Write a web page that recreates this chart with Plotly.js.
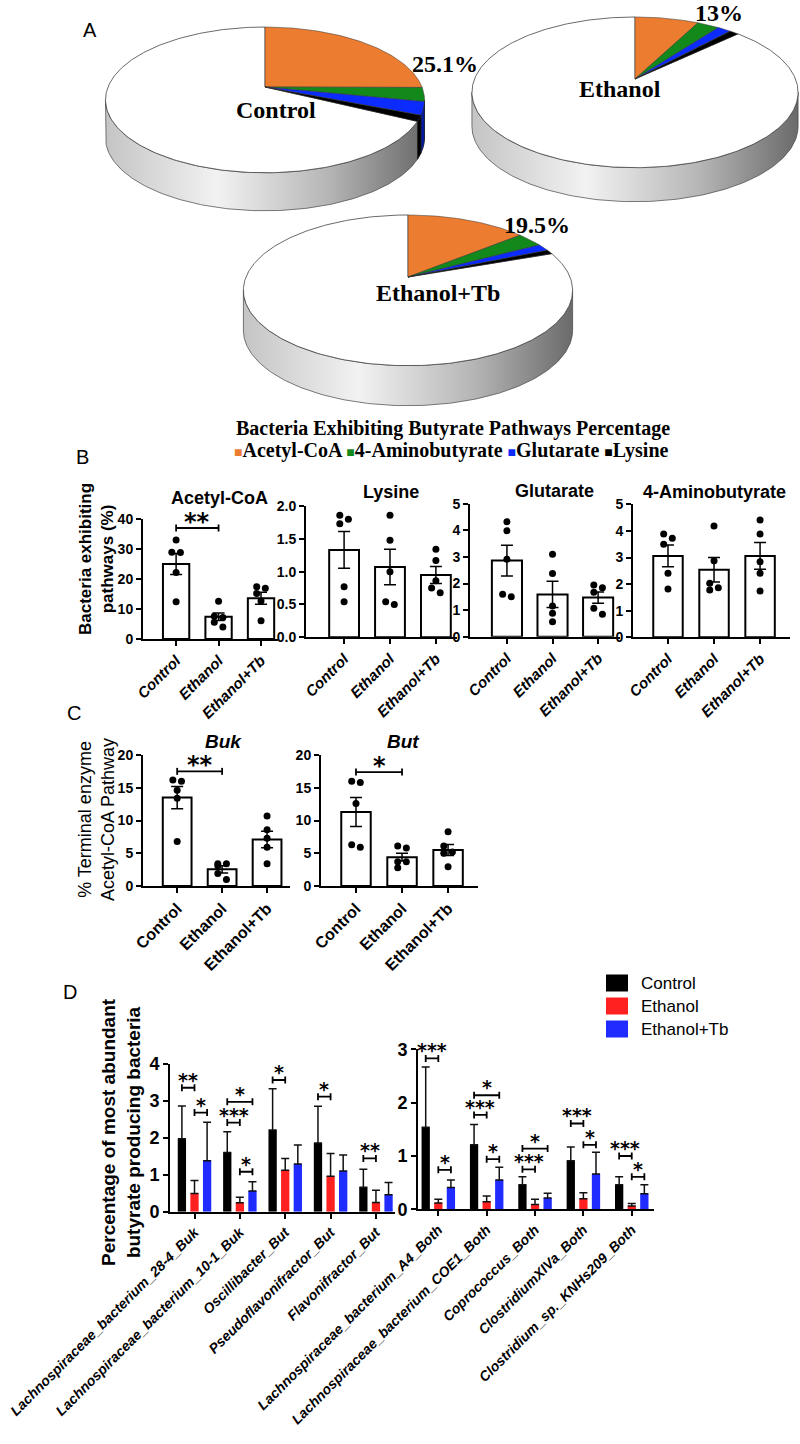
<!DOCTYPE html>
<html>
<head>
<meta charset="utf-8">
<script src="https://cdn.plot.ly/plotly-3.0.1.min.js"></script>
<style>html,body{margin:0;padding:0;background:#fff;}#chart{width:800px;height:1444px;}</style>
</head>
<body>
<div id="chart"></div>
<script>
// ================= DATA =================
const groups = ['Control', 'Ethanol', 'Ethanol+Tb'];
const pathways = ['Acetyl-CoA', '4-Aminobutyrate', 'Glutarate', 'Lysine'];

// Panel A: % of bacteria exhibiting each butyrate pathway (slice order = pathways)
const pieControl   = [25.1, 3.1, 2.9, 1.3];
const pieEthanol   = [7.5, 2.6, 1.6, 1.1];
const pieEthanolTb = [14.0, 3.1, 1.5, 0.9];
const pieLabels    = ['25.1%', '13%', '19.5%'];

// Panel B: mean, SEM and individual animals
const acetylMean = [25.0, 7.4, 13.6];
const acetylSem  = [3.5, 1.25, 2.0];
const acetylPts  = [[33.0, 28.9, 28.8, 22.2, 12.4], [12.6, 7.6, 7.2, 5.6, 4.0], [17.4, 16.9, 15.2, 12.7, 6.1]];
const lysineMean = [1.33, 1.07, 0.95];
const lysineSem  = [0.28, 0.27, 0.13];
const lysinePts  = [[1.86, 1.80, 1.73, 0.77, 0.54], [1.86, 1.48, 1.00, 0.50, 0.54], [1.34, 1.17, 0.86, 0.68, 0.75]];
const glutMean = [2.86, 1.59, 1.47];
const glutSem  = [0.58, 0.49, 0.21];
const glutPts  = [[4.32, 3.98, 2.91, 1.50, 1.60], [3.10, 2.38, 1.15, 0.88, 0.56], [1.94, 1.84, 1.67, 1.07, 0.84]];
const aminoMean = [3.06, 2.54, 3.06];
const aminoSem  = [0.41, 0.46, 0.50];
const aminoPts  = [[3.88, 3.72, 3.50, 2.41, 1.82], [4.18, 2.88, 2.03, 1.78, 1.86], [4.41, 3.88, 2.84, 2.41, 1.74]];

// Panel C: terminal enzyme of Acetyl-CoA pathway
const bukMean = [13.5, 2.55, 7.1];
const bukSem  = [1.7, 0.55, 1.25];
const bukPts  = [[16.2, 16.0, 14.6, 13.4, 6.8], [3.4, 3.4, 3.1, 1.9, 1.0], [10.7, 8.6, 7.3, 5.9, 3.4]];
const butMean = [11.3, 4.4, 5.5];
const butSem  = [2.2, 0.6, 0.85];
const butPts  = [[16.0, 15.8, 12.6, 5.9, 6.3], [6.1, 5.8, 3.7, 3.7, 2.8], [8.3, 6.1, 5.2, 5.0, 2.95]];

// Significance (group i, group j, height, label)
const acetylSig = [[0, 1, 37, '**']];
const bukSig = [[0, 1, 17.5, '**']];
const butSig = [[0, 1, 17.4, '*']];

// Panel D: most abundant butyrate producing bacteria (mean and upper SD)
const dLeftNames = ['Lachnospiraceae_bacterium_28-4_Buk', 'Lachnospiraceae_bacterium_10-1_Buk', 'Oscillibacter_But', 'Pseudoflavonifractor_But', 'Flavonifractor_But'];
const dRightNames = ['Lachnospiraceae_bacterium_A4_Both', 'Lachnospiraceae_bacterium_COE1_Both', 'Coprococcus_Both', 'ClostridiumXIVa_Both', 'Clostridium_sp._KNHs209_Both'];
const dLeftControl   = [1.97, 1.60, 2.21, 1.86, 0.66];
const dLeftEthanol   = [0.49, 0.24, 1.12, 0.96, 0.25];
const dLeftEthanolTb = [1.38, 0.56, 1.29, 1.10, 0.46];
const dLeftControlSd   = [0.89, 0.56, 1.11, 0.99, 0.49];
const dLeftEthanolSd   = [0.35, 0.15, 0.32, 0.61, 0.33];
const dLeftEthanolTbSd = [1.04, 0.25, 0.51, 0.43, 0.33];
const dRightControl   = [1.54, 1.21, 0.46, 0.91, 0.46];
const dRightEthanol   = [0.12, 0.14, 0.09, 0.20, 0.06];
const dRightEthanolTb = [0.41, 0.55, 0.21, 0.66, 0.29];
const dRightControlSd   = [1.13, 0.38, 0.15, 0.26, 0.15];
const dRightEthanolSd   = [0.07, 0.11, 0.10, 0.11, 0.05];
const dRightEthanolTbSd = [0.14, 0.24, 0.09, 0.41, 0.17];
// (bacterium index, group i, group j, height, label)
const dLeftSig = [[0,0,1,3.35,'**'],[0,1,2,2.68,'*'],[1,0,1,2.41,'***'],[1,0,2,2.97,'*'],[1,1,2,1.08,'*'],[2,0,1,3.56,'*'],[3,0,1,3.11,'*'],[4,0,1,1.44,'**']];
const dRightSig = [[0,0,1,2.83,'***'],[0,0,2,3.22,'*'],[0,1,2,0.74,'*'],[1,0,1,1.77,'***'],[1,0,2,2.14,'*'],[1,1,2,0.94,'*'],[2,0,1,0.75,'***'],[2,0,2,1.14,'*'],[3,0,1,1.61,'***'],[3,1,2,1.21,'*'],[4,0,1,1.00,'***'],[4,1,2,0.61,'*']];

// ================= STYLE / LAYOUT =================
const W = 800, H = 1444;
const SANS = 'Liberation Sans, Arial, sans-serif';
const SERIF = 'Liberation Serif, Times New Roman, serif';
const pieColors = ['#EC7C30', '#12891A', '#0B2BFF', '#000000'];
const pieSideColors = ['#a9561f', '#0a5c10', '#061a9e', '#000000'];
const dColors = ['#000000', '#FF2020', '#1F2BFF'];

const traces = [], annotations = [], shapes = [];
const layout = {
  width: W, height: H, margin: {l: 0, r: 0, t: 0, b: 0},
  paper_bgcolor: '#ffffff', plot_bgcolor: 'rgba(0,0,0,0)', showlegend: false,
  font: {family: SANS, color: '#000'},
  xaxis: {domain: [0, 1], range: [0, W], visible: false, fixedrange: true},
  yaxis: {domain: [0, 1], range: [H, 0], visible: false, fixedrange: true}
};
const PX = x => x / W, PY = y => 1 - y / H;
function note(text, x, y, font, extra) {
  annotations.push(Object.assign({text, x: PX(x), y: PY(y), xref: 'paper', yref: 'paper', showarrow: false, font, xanchor: 'center', yanchor: 'middle'}, extra || {}));
}

// ---------- Panel A: perspective pies ----------
const pieGeom = [
  {cx: 265, cy: 87, a: 157, s: 70.6, k: 0.177, h: 38, nx: 276, ny: 110, lx: 445, ly: 64},
  {cx: 635, cy: 79, a: 160.5, s: 73, k: 0.177, h: 34, nx: 620, ny: 89, lx: 719, ly: 13},
  {cx: 408, cy: 277, a: 162, s: 73, k: 0.177, h: 40, nx: 438, ny: 293, lx: 537, ly: 225}
];
const pieData = [pieControl, pieEthanol, pieEthanolTb];
function proj(g, th) { const X = Math.sin(th), Z = Math.cos(th), d = 1 + g.k * Z; return [g.cx + g.a * X / d, g.cy - g.s * Z / d]; }
function arc(g, t0, t1) {
  const n = Math.max(2, Math.ceil(Math.abs(t1 - t0) / (Math.PI / 180)));
  const out = [];
  for (let i = 0; i <= n; i++) out.push(proj(g, t0 + (t1 - t0) * i / n));
  return out;
}
function poly(pts, extra) {
  traces.push(Object.assign({type: 'scatter', mode: 'lines', x: pts.map(p => p[0]), y: pts.map(p => p[1]), fill: 'toself', xaxis: 'x', yaxis: 'y', hoverinfo: 'skip', line: {color: '#444', width: 0.7}}, extra));
}
pieData.forEach((vals, pi) => {
  const g = pieGeom[pi];
  const tR = Math.acos(-g.k), tL = 2 * Math.PI - tR;
  const top = arc(g, tR, tL);
  const side = top.concat(top.slice().reverse().map(p => [p[0], p[1] + g.h]));
  side.push(side[0]);
  poly(side, {fillgradient: {type: 'horizontal', start: g.cx - g.a * 1.02, stop: g.cx + g.a * 1.02, colorscale: [[0, '#c4c4c4'], [0.35, '#f2f2f2'], [0.7, '#b5b5b5'], [1, '#6a6a6a']]}});
  let acc = 0;
  const bounds = vals.map(v => { const t0 = acc / 100 * 2 * Math.PI; acc += v; return [t0, acc / 100 * 2 * Math.PI]; });
  bounds.forEach(([t0, t1], i) => {
    const s0 = Math.max(t0, tR), s1 = Math.min(t1, tL);
    if (s1 > s0) {
      const tp = arc(g, s0, s1);
      const sp = tp.concat(tp.slice().reverse().map(p => [p[0], p[1] + g.h]));
      sp.push(sp[0]);
      poly(sp, {fillcolor: pieSideColors[i], line: {color: '#222', width: 0.5}});
    }
  });
  const end = bounds[bounds.length - 1][1];
  const rest = [[g.cx, g.cy]].concat(arc(g, end, 2 * Math.PI), [[g.cx, g.cy]]);
  poly(rest, {fillcolor: '#ffffff', line: {color: '#444', width: 0.8}});
  bounds.forEach(([t0, t1], i) => {
    const pts = [[g.cx, g.cy]].concat(arc(g, t0, t1), [[g.cx, g.cy]]);
    poly(pts, {fillcolor: pieColors[i], line: {color: '#333', width: 0.5}});
  });
  annotations.push({text: groups[pi], x: g.nx, y: g.ny, xref: 'x', yref: 'y', showarrow: false, font: {family: SERIF, size: 24, weight: 'bold', color: '#000'}});
  annotations.push({text: pieLabels[pi], x: g.lx, y: g.ly, xref: 'x', yref: 'y', showarrow: false, font: {family: SERIF, size: 24, weight: 'bold', color: '#000'}});
});
note('Bacteria Exhibiting Butyrate Pathways Percentage', 453, 428, {family: SERIF, size: 20, weight: 'bold'});
note(pathways.map((p, i) => '<span style="color:' + pieColors[i] + ';font-size:14px">■</span>' + p).join(' '), 452, 450, {family: SERIF, size: 20, weight: 'bold'});

// panel letters
note('A', 90, 30, {family: SANS, size: 20});
note('B', 82, 457, {family: SANS, size: 20});
note('C', 74, 713, {family: SANS, size: 20});
note('D', 70, 992, {family: SANS, size: 20});

function axisPair(n, box, xr, yr) {
  const common = {showline: true, linecolor: '#000', linewidth: 2, ticks: 'outside', ticklen: 5, tickwidth: 2, tickcolor: '#000', showgrid: false, zeroline: false, fixedrange: true};
  layout['xaxis' + n] = Object.assign({domain: [box[0] / W, box[1] / W], range: xr, anchor: 'y' + n}, common);
  layout['yaxis' + n] = Object.assign({domain: [1 - box[3] / H, 1 - box[2] / H], range: yr, anchor: 'x' + n}, common);
  return {pxX: (box[1] - box[0]) / (xr[1] - xr[0]), pxY: (box[3] - box[2]) / (yr[1] - yr[0])};
}
function bracket(n, x0, x1, y, t, label, size, yshift) {
  traces.push({type: 'scatter', mode: 'lines', x: [x0, x0, null, x0, x1, null, x1, x1], y: [y - t, y + t, null, y, y, null, y - t, y + t],
    line: {color: '#000', width: 1.8}, cliponaxis: false, hoverinfo: 'skip', xaxis: 'x' + n, yaxis: 'y' + n});
  annotations.push({text: label, x: (x0 + x1) / 2, y: y, xref: 'x' + n, yref: 'y' + n, showarrow: false, yanchor: 'bottom', yshift: yshift,
    font: {family: 'DejaVu Sans, sans-serif', size: size, weight: 'bold', color: '#000'}});
}
function swarm(vals, center, pxX, pxY, diam) {
  const idx = vals.map((v, i) => i).sort((a, b) => vals[b] - vals[a]);
  const xs = vals.map(() => center);
  let cluster = [idx[0]];
  const flush = () => {
    if (cluster.length > 1) cluster.forEach((id, j) => { xs[id] = center + (j % 2 === 0 ? -1 : 1) * (diam / 2 + 0.8) / pxX; });
    cluster = [];
  };
  for (let j = 1; j < idx.length; j++) {
    if ((vals[idx[j - 1]] - vals[idx[j]]) * pxY < diam) cluster.push(idx[j]); else { flush(); cluster = [idx[j]]; }
  }
  flush();
  return xs;
}

const scatterPanels = [
  {n: 2, box: [143, 278, 519, 639], xr: [-0.78, 2.4], yr: [0, 40], dtick: 10, fmt: '', mean: acetylMean, sem: acetylSem, pts: acetylPts, sig: acetylSig, title: 'Acetyl-CoA', tx: 219, ty: 498, italicTitle: false, italicTicks: true, bw: 0.62},
  {n: 3, box: [306, 457, 506, 637.3], xr: [-0.83, 2.46], yr: [0, 2], dtick: 0.5, fmt: '.1f', mean: lysineMean, sem: lysineSem, pts: lysinePts, sig: [], title: 'Lysine', tx: 391, ty: 492, italicTitle: false, italicTicks: true, bw: 0.65},
  {n: 4, box: [470, 620, 503.7, 636.7], xr: [-0.81, 2.48], yr: [0, 5], dtick: 1, fmt: '', mean: glutMean, sem: glutSem, pts: glutPts, sig: [], title: 'Glutarate', tx: 554, ty: 491, italicTitle: false, italicTicks: true, bw: 0.66},
  {n: 5, box: [633, 790, 504.3, 637.3], xr: [-0.76, 2.65], yr: [0, 5], dtick: 1, fmt: '', mean: aminoMean, sem: aminoSem, pts: aminoPts, sig: [], title: '4-Aminobutyrate', tx: 714, ty: 492, italicTitle: false, italicTicks: true, bw: 0.64},
  {n: 6, box: [143, 290, 755, 886], xr: [-0.76, 2.51], yr: [0, 20], dtick: 5, fmt: '', mean: bukMean, sem: bukSem, pts: bukPts, sig: bukSig, title: 'Buk', tx: 223, ty: 741, italicTitle: true, italicTicks: false, bw: 0.64},
  {n: 7, box: [321, 478, 755, 886], xr: [-0.76, 2.65], yr: [0, 20], dtick: 5, fmt: '', mean: butMean, sem: butSem, pts: butPts, sig: butSig, title: 'But', tx: 403, ty: 741, italicTitle: true, italicTicks: false, bw: 0.64}
];
scatterPanels.forEach(p => {
  const s = axisPair(p.n, p.box, p.xr, p.yr);
  Object.assign(layout['xaxis' + p.n], {tickvals: [0, 1, 2], ticktext: groups, tickangle: -45,
    tickfont: {family: SANS, size: p.italicTicks ? 15 : 16, weight: 'bold', style: p.italicTicks ? 'italic' : 'normal'}});
  Object.assign(layout['yaxis' + p.n], {tick0: 0, dtick: p.dtick, tickformat: p.fmt, tickfont: {family: SANS, size: 14, weight: 'bold'}});
  traces.push({type: 'bar', x: [0, 1, 2], y: p.mean, width: p.bw, xaxis: 'x' + p.n, yaxis: 'y' + p.n, hoverinfo: 'skip',
    marker: {color: '#ffffff', line: {color: '#000', width: 2}},
    error_y: {type: 'data', array: p.sem, visible: true, color: '#000', thickness: 1.5, width: 6}});
  p.pts.forEach((vals, gi) => {
    traces.push({type: 'scatter', mode: 'markers', x: swarm(vals, gi, s.pxX, s.pxY, 7), y: vals, xaxis: 'x' + p.n, yaxis: 'y' + p.n,
      cliponaxis: false, hoverinfo: 'skip', marker: {size: 7, color: '#000'}});
  });
  p.sig.forEach(([i, j, y, lab]) => bracket(p.n, i, j, y, 3.5 / s.pxY, lab, 24, -10));
  note(p.title, p.tx, p.ty, {family: SANS, size: p.italicTitle ? 19 : 18, weight: 'bold', style: p.italicTitle ? 'italic' : 'normal'});
});
note('Bacteria exhibiting<br>pathways (%)', 96, 559, {family: SANS, size: 17, weight: 'bold'}, {textangle: -90});
note('% Terminal enzyme<br>Acetyl-CoA Pathway', 96, 820, {family: SANS, size: 18}, {textangle: -90});

function dPanel(n, box, xr, yr, names, means, sds, sig) {
  const s = axisPair(n, box, xr, yr);
  Object.assign(layout['xaxis' + n], {tickvals: [0, 1, 2, 3, 4], ticktext: names, tickangle: -45,
    tickfont: {family: SANS, size: 14, weight: 'bold', style: 'italic'}});
  Object.assign(layout['yaxis' + n], {tick0: 0, dtick: 1, tickfont: {family: SANS, size: 18, weight: 'bold'}});
  const slot = 12.6 / s.pxX, bw = 8.3 / s.pxX;
  groups.forEach((gname, k) => {
    traces.push({type: 'bar', name: gname, x: [0, 1, 2, 3, 4], y: means[k], width: bw, offset: (k - 1) * slot - bw / 2,
      xaxis: 'x' + n, yaxis: 'y' + n, hoverinfo: 'skip', marker: {color: dColors[k], line: {width: 0}},
      error_y: {type: 'data', symmetric: false, array: sds[k], arrayminus: sds[k].map(() => 0), color: '#111', thickness: 1.5, width: 4}});
  });
  sig.forEach(([g, i, j, y, lab]) => bracket(n, g + (i - 1) * slot, g + (j - 1) * slot, y, 3.5 / s.pxY, lab, 19, -5));
}
dPanel(8, [170, 395, 1063.7, 1211.7], [-0.54, 4.42], [0, 4], dLeftNames,
  [dLeftControl, dLeftEthanol, dLeftEthanolTb], [dLeftControlSd, dLeftEthanolSd, dLeftEthanolTbSd], dLeftSig);
dPanel(9, [418, 654, 1049.4, 1209.3], [-0.42, 4.46], [0, 3], dRightNames,
  [dRightControl, dRightEthanol, dRightEthanolTb], [dRightControlSd, dRightEthanolSd, dRightEthanolTbSd], dRightSig);
note('Percentage of most abundant<br>butyrate producing bacteria', 121, 1132, {family: SANS, size: 19, weight: 'bold'}, {textangle: -90});

const legendY = [983, 1006, 1029];
groups.forEach((gname, k) => {
  shapes.push({type: 'rect', xref: 'paper', yref: 'paper', x0: PX(606), x1: PX(628), y0: PY(legendY[k] + 8.5), y1: PY(legendY[k] - 8.5), fillcolor: dColors[k], line: {width: 0}});
  note(gname, 639, legendY[k], {family: SANS, size: 17}, {xanchor: 'left'});
});

layout.annotations = annotations;
layout.shapes = shapes;
Plotly.newPlot('chart', traces, layout, {displayModeBar: false, staticPlot: true});
</script>
</body>
</html>
